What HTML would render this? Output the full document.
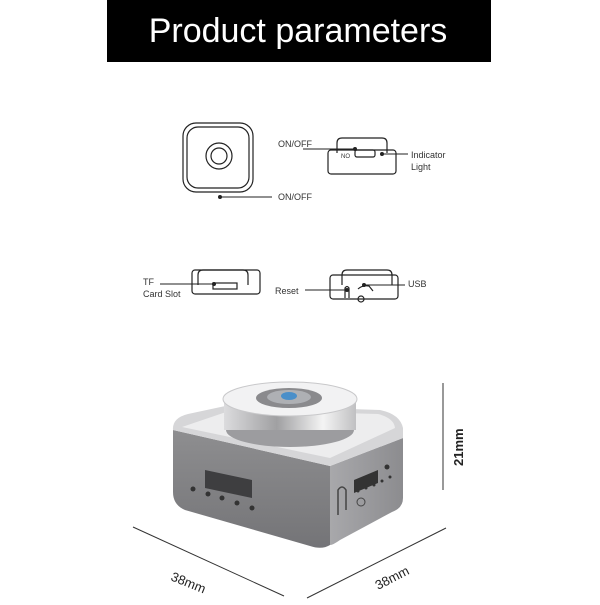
<!DOCTYPE html>
<html><head><style>
body{margin:0;width:600px;height:600px;background:#fff;overflow:hidden;font-family:"Liberation Sans",sans-serif}
</style></head><body>
<svg width="600" height="600" viewBox="0 0 600 600" xmlns="http://www.w3.org/2000/svg" font-family="Liberation Sans, sans-serif">
<defs>
<linearGradient id="fr" x1="0" y1="0" x2="0" y2="1"><stop offset="0" stop-color="#8e8e90"/><stop offset="1" stop-color="#747477"/></linearGradient>
<linearGradient id="rs" x1="0" y1="0" x2="1" y2="0"><stop offset="0" stop-color="#a8a8ab"/><stop offset="1" stop-color="#8c8c8f"/></linearGradient>
<linearGradient id="cyl" x1="0" y1="0" x2="1" y2="0"><stop offset="0" stop-color="#dcdcde"/><stop offset=".4" stop-color="#a0a0a2"/><stop offset=".75" stop-color="#f4f4f4"/><stop offset="1" stop-color="#c0c0c2"/></linearGradient>
</defs>
<rect x="107" y="0" width="384" height="62" fill="#000"/>
<text x="298" y="42" fill="#fff" font-size="34" text-anchor="middle">Product parameters</text>

<g fill="none" stroke="#222" stroke-width="1.2">
<rect x="183" y="123" width="70" height="69" rx="13"/>
<rect x="187" y="127" width="62" height="61" rx="11"/>
<circle cx="219" cy="156" r="13"/><circle cx="219" cy="156" r="8"/>
<path d="M337 153 v-10 q0-5 5-5 h40 q5 0 5 5 v10"/>
<rect x="328" y="150" width="68" height="24" rx="3"/>
<rect x="355" y="150" width="20" height="7" rx="2"/>
<path d="M198 285 v-10 q0-5 5-5 h40 q5 0 5 5 v10"/>
<rect x="192" y="270" width="68" height="24" rx="3"/>
<rect x="213" y="283" width="24" height="6"/>
<path d="M342 285 v-10 q0-5 5-5 h40 q5 0 5 5 v10"/>
<rect x="330" y="275" width="68" height="24" rx="3"/>
<path d="M358 289 q4-4 11-3 l4 5"/><circle cx="361" cy="299" r="3"/>
<path d="M345 298 v-10 q2-3 4 0 v10"/>
</g>
<g fill="#222">
<circle cx="220" cy="197" r="2"/><circle cx="355" cy="149" r="2"/><circle cx="382" cy="154" r="2"/>
<circle cx="214" cy="284" r="2"/><circle cx="347" cy="290" r="2"/><circle cx="364" cy="285" r="2"/>
</g>
<g stroke="#222" stroke-width="1">
<line x1="220" y1="197" x2="272" y2="197"/><line x1="303" y1="149" x2="355" y2="149"/>
<line x1="382" y1="154" x2="408" y2="154"/><line x1="160" y1="284" x2="214" y2="284"/>
<line x1="305" y1="290" x2="347" y2="290"/><line x1="364" y1="285" x2="405" y2="285"/>
</g>
<g font-size="9" fill="#333">
<text x="278" y="147">ON/OFF</text><text x="278" y="200">ON/OFF</text>
<text x="411" y="158">Indicator</text><text x="411" y="170">Light</text>
<text x="143" y="285">TF</text><text x="143" y="297">Card Slot</text>
<text x="275" y="294">Reset</text><text x="408" y="287">USB</text>
<text x="341" y="158" font-size="6">NO</text>
</g>

<path d="M173 430 L330 466 L330 545 Q322 550 310 546 L185 510 Q173 505 173 492 Z" fill="url(#fr)"/>
<path d="M330 466 L403 438 L403 498 Q403 508 392 512 L340 540 Q333 545 330 545 Z" fill="url(#rs)"/>
<path d="M173 430 Q172 418 188 414 L230 405 L380 410 Q400 414 403 428 L403 438 L330 466 Z" fill="#d6d6d8"/>
<path d="M182 427 L232 410 L378 414 Q394 418 395 428 L330 458 Z" fill="#ededee"/>
<ellipse cx="290" cy="430" rx="64" ry="17" fill="#9c9c9f"/>
<rect x="224" y="400" width="132" height="30" fill="url(#cyl)"/>
<ellipse cx="290" cy="399" rx="67" ry="17" fill="#f2f2f3" stroke="#c8c8ca"/>
<ellipse cx="289" cy="398" rx="33" ry="10" fill="#8a8a8d"/>
<ellipse cx="289" cy="397" rx="22" ry="7" fill="#aeb0b4"/>
<ellipse cx="289" cy="396" rx="8" ry="4" fill="#4a8fc9"/>
<path d="M205 470 L252 480 L252 498 L205 488 Z" fill="#3e3e40"/>
<g fill="#333"><circle cx="193" cy="489" r="2.5"/><circle cx="208" cy="494" r="2.5"/><circle cx="222" cy="498" r="2.5"/><circle cx="237" cy="503" r="2.5"/><circle cx="252" cy="508" r="2.5"/>
<path d="M354 480 L378 470 L378 483 L354 493 Z"/><circle cx="387" cy="467" r="2.5"/><circle cx="358" cy="491" r="1.5"/><circle cx="366" cy="488" r="1.5"/><circle cx="374" cy="485" r="1.5"/><circle cx="382" cy="481" r="1.5"/><circle cx="390" cy="477" r="1.5"/></g>
<path d="M338 515 v-25 q4-6 8 0 v20" stroke="#444" fill="none" stroke-width="1.5"/>
<circle cx="361" cy="502" r="4" fill="none" stroke="#444"/>

<g stroke="#333" stroke-width="1">
<line x1="133" y1="527" x2="284" y2="596"/><line x1="307" y1="598" x2="446" y2="528"/>
<line x1="443" y1="383" x2="443" y2="490"/>
</g>
<text x="0" y="0" font-size="13" fill="#222" transform="translate(170 580) rotate(22)">38mm</text>
<text x="0" y="0" font-size="13" fill="#222" transform="translate(378 590) rotate(-27)">38mm</text>
<text x="0" y="0" font-size="13" fill="#222" font-weight="bold" transform="translate(463 466) rotate(-90)">21mm</text>
</svg>
</body></html>
